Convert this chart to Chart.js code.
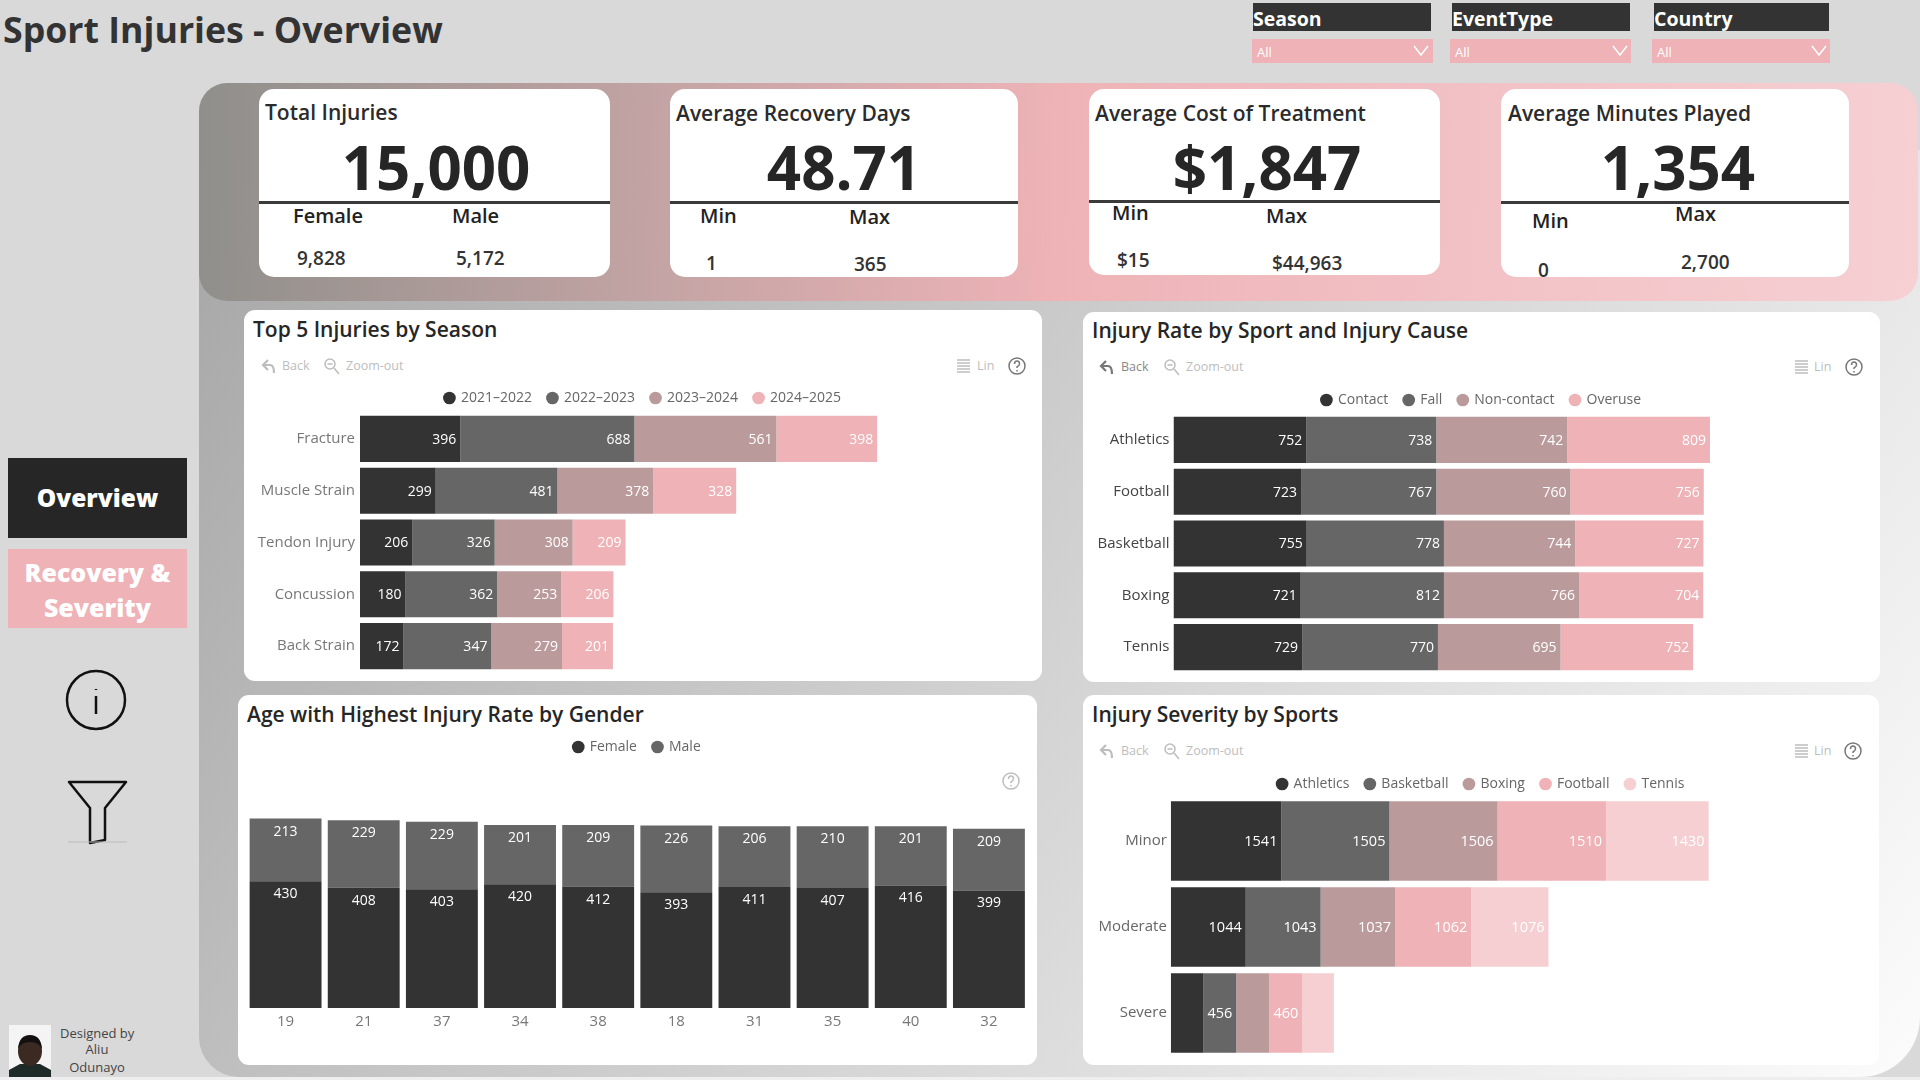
<!DOCTYPE html>
<html>
<head>
<meta charset="utf-8">
<title>Sport Injuries - Overview</title>
<script src="https://cdn.jsdelivr.net/npm/chart.js@4"></script>
<style>
  html, body { margin: 0; padding: 0; width: 1920px; height: 1080px; overflow: hidden; background: #d9d9d9; font-family: "Open Sans", sans-serif; color: #2b2b2b; }
  div, canvas, svg { position: absolute; }
  .t { white-space: nowrap; transform: translateY(-50%); line-height: 1; }
  .kpi { background: #fff; border-radius: 15px; overflow: hidden; }
  .rule { height: 3px; background: #3a3a3a; }
  .kt { font-size: 21px; font-weight: 600; color: #2b2b2b; }
  .kv { font-size: 60px; font-weight: 700; color: #262626; transform: translate(-50%, -50%); }
  .kh { font-size: 20px; font-weight: 600; color: #222; }
  .kn { font-size: 19px; font-weight: 600; color: #333; }
  .card { background: #fff; border-radius: 11px; }
  .ct { font-size: 21px; font-weight: 600; color: #262626; }
  .tool { font-size: 12.5px; color: #bdbdbd; }
  .head { background: #333; color: #fff; font-size: 19.5px; font-weight: 700; }
  .drop { background: #eeb2b7; color: #fff; font-size: 13px; }
  .nav { color: #fff; font-weight: 800; text-align: center; }
</style>
</head>
<body>

<div class="t" style="left:3px;top:30px;font-size:35.7px;font-weight:700;color:#333">Sport Injuries - Overview</div>

<!-- slicers -->
<div class="head" style="left:1253px;top:3px;width:178px;height:28px"><div class="t" style="left:0;top:16px">Season</div></div>
<div class="drop" style="left:1252px;top:39px;width:181px;height:24px"><div class="t" style="left:5px;top:13px">All</div></div>
<div class="head" style="left:1452px;top:3px;width:178px;height:28px"><div class="t" style="left:0;top:16px">EventType</div></div>
<div class="drop" style="left:1450px;top:39px;width:181px;height:24px"><div class="t" style="left:5px;top:13px">All</div></div>
<div class="head" style="left:1654px;top:3px;width:175px;height:28px"><div class="t" style="left:0;top:16px">Country</div></div>
<div class="drop" style="left:1652px;top:39px;width:178px;height:24px"><div class="t" style="left:5px;top:13px">All</div></div>
<svg style="left:0;top:0" width="1920" height="70" fill="none" stroke="#fff" stroke-width="1.5">
  <path d="M1414 46l7 9 7-9M1613 46l7 9 7-9M1812 46l7 9 7-9"/>
</svg>

<!-- sidebar -->
<div class="nav" style="left:8px;top:458px;width:179px;height:80px;background:#262626;font-size:24.5px;line-height:80px">Overview</div>
<div class="nav" style="left:8px;top:549px;width:179px;padding-top:6px;height:73px;background:#eeb2b7;font-size:25px;line-height:35px">Recovery &amp;<br>Severity</div>
<svg style="left:0;top:660px" width="199" height="200" fill="none" stroke="#111" stroke-width="2.5">
  <circle cx="96" cy="40" r="29"/>
  <path d="M96 29v1M96 36v18"/>
  <path d="M69 122h57l-21 26v32l-15 3v-35z" stroke-linejoin="round"/>
  <path d="M68 182h59" stroke="#bbb" stroke-width="1"/>
</svg>
<svg style="left:9px;top:1025px" width="42" height="53">
  <rect width="42" height="53" fill="#f4f4f4"/>
  <path d="M0 53v-8l11-6h20l11 6v8z" fill="#1d2a28"/>
  <ellipse cx="21" cy="26" rx="12" ry="15" fill="#3a2a22"/>
  <path d="M9 24q1-14 12-14t12 14q-3-7-12-7t-12 7z" fill="#141010"/>
</svg>
<div class="t" style="left:60px;top:1033px;font-size:13px;width:74px;text-align:center;color:#444">Designed by</div>
<div class="t" style="left:60px;top:1049px;font-size:13px;width:74px;text-align:center;color:#444">Aliu</div>
<div class="t" style="left:60px;top:1067px;font-size:13px;width:74px;text-align:center;color:#444">Odunayo</div>

<!-- backdrop -->
<div style="left:0;top:1077px;width:1920px;height:3px;background:#eeeeee"></div>
<div style="left:199px;top:150px;width:1721px;height:927px;border-radius:0 0 60px 40px;background:linear-gradient(125deg,#a6a6a6 0,#d2d2d2 50%,#fcfcfc 100%)"></div>
<div style="left:199px;top:83px;width:1719px;height:218px;border-radius:28px;background:linear-gradient(92deg,#8f8f8b 0,#c2a3a3 26%,#eeb3b7 50%,#f1bfc3 70%,#f6d0d3 100%)"></div>

<!-- KPI cards -->
<div class="kpi" style="left:259px;top:89px;width:351px;height:188px">
  <div class="t kt" style="left:6px;top:23px">Total Injuries</div>
  <div class="t kv" style="left:177px;top:78px">15,000</div>
  <div class="rule" style="left:0;top:112px;width:351px"></div>
  <div class="t kh" style="left:34px;top:127px">Female</div>
  <div class="t kh" style="left:193px;top:127px">Male</div>
  <div class="t kn" style="left:38px;top:169px">9,828</div>
  <div class="t kn" style="left:197px;top:169px">5,172</div>
</div>
<div class="kpi" style="left:670px;top:89px;width:348px;height:188px">
  <div class="t kt" style="left:6px;top:24px">Average Recovery Days</div>
  <div class="t kv" style="left:174px;top:78px">48.71</div>
  <div class="rule" style="left:0;top:112px;width:348px"></div>
  <div class="t kh" style="left:30px;top:127px">Min</div>
  <div class="t kh" style="left:179px;top:128px">Max</div>
  <div class="t kn" style="left:36px;top:174px">1</div>
  <div class="t kn" style="left:184px;top:175px">365</div>
</div>
<div class="kpi" style="left:1089px;top:89px;width:351px;height:186px">
  <div class="t kt" style="left:6px;top:24px">Average Cost of Treatment</div>
  <div class="t kv" style="left:178px;top:78px">$1,847</div>
  <div class="rule" style="left:0;top:111px;width:351px"></div>
  <div class="t kh" style="left:23px;top:124px">Min</div>
  <div class="t kh" style="left:177px;top:127px">Max</div>
  <div class="t kn" style="left:28px;top:171px">$15</div>
  <div class="t kn" style="left:183px;top:174px">$44,963</div>
</div>
<div class="kpi" style="left:1501px;top:89px;width:348px;height:188px">
  <div class="t kt" style="left:7px;top:24px">Average Minutes Played</div>
  <div class="t kv" style="left:177px;top:78px">1,354</div>
  <div class="rule" style="left:0;top:112px;width:348px"></div>
  <div class="t kh" style="left:31px;top:132px">Min</div>
  <div class="t kh" style="left:174px;top:125px">Max</div>
  <div class="t kn" style="left:37px;top:181px">0</div>
  <div class="t kn" style="left:180px;top:173px">2,700</div>
</div>

<!-- chart cards -->
<div class="card" style="left:244px;top:310px;width:798px;height:371px"></div>
<div class="card" style="left:1083px;top:312px;width:797px;height:370px"></div>
<div class="card" style="left:238px;top:695px;width:799px;height:370px"></div>
<div class="card" style="left:1083px;top:695px;width:796px;height:370px"></div>

<div class="t ct" style="left:253px;top:329px">Top 5 Injuries by Season</div>
<div class="t ct" style="left:1092px;top:330px">Injury Rate by Sport and Injury Cause</div>
<div class="t ct" style="left:247px;top:714px">Age with Highest Injury Rate by Gender</div>
<div class="t ct" style="left:1092px;top:714px">Injury Severity by Sports</div>

<canvas id="seasonChart" style="left:244px;top:375px" width="798" height="297"></canvas>
<canvas id="causeChart" style="left:1083px;top:377px" width="797" height="296"></canvas>
<canvas id="ageChart" style="left:238px;top:724px" width="799" height="311"></canvas>
<canvas id="severityChart" style="left:1083px;top:761px" width="796" height="295"></canvas>

<!-- visual header toolbars -->
<div class="t tool" style="left:282px;top:366px">Back</div>
<div class="t tool" style="left:346px;top:366px">Zoom-out</div>
<div class="t tool" style="left:977px;top:366px">Lin</div>
<div class="t tool" style="left:1121px;top:367px;color:#888">Back</div>
<div class="t tool" style="left:1186px;top:367px">Zoom-out</div>
<div class="t tool" style="left:1814px;top:367px">Lin</div>
<div class="t tool" style="left:1121px;top:751px">Back</div>
<div class="t tool" style="left:1186px;top:751px">Zoom-out</div>
<div class="t tool" style="left:1814px;top:751px">Lin</div>
<svg style="left:0;top:0" width="1920" height="1080" fill="none" stroke="#bdbdbd" stroke-width="1.5">
  <defs>
    <g id="backIcon"><path d="M6 -6l-5 5 5 5M1 -1h7q4 0 4 8" stroke-width="2.2"/></g>
    <g id="zoomIcon"><circle cx="5" cy="-2" r="5"/><path d="M2.5 -2h5M9 2l5 6"/></g>
    <g id="linesIcon"><path d="M0 -6h13M0 -3h13M0 0h13M0 3h13M0 6h13"/></g>
    <g id="helpIcon"><circle cx="0" cy="0" r="8"/><path d="M-2.5 -2q0 -3 2.5 -3t2.5 3q0 1.5 -2.5 3v1M0 4v1.5"/></g>
  </defs>
  <use href="#backIcon" x="262" y="366"/><use href="#zoomIcon" x="325" y="366"/><use href="#linesIcon" x="957" y="366"/><use href="#helpIcon" x="1017" y="366" stroke="#777"/>
  <use href="#backIcon" x="1100" y="367" stroke="#777"/><use href="#zoomIcon" x="1165" y="367"/><use href="#linesIcon" x="1795" y="367"/><use href="#helpIcon" x="1854" y="367" stroke="#777"/>
  <use href="#helpIcon" x="1011" y="781"/>
  <use href="#backIcon" x="1100" y="751"/><use href="#zoomIcon" x="1165" y="751"/><use href="#linesIcon" x="1795" y="751"/><use href="#helpIcon" x="1853" y="751" stroke="#777"/>
</svg>

<script>
// Top 5 injuries by season
const injuries = ['Fracture', 'Muscle Strain', 'Tendon Injury', 'Concussion', 'Back Strain'];
const seasons = ['2021–2022', '2022–2023', '2023–2024', '2024–2025'];
const season2122 = [396, 299, 206, 180, 172];
const season2223 = [688, 481, 326, 362, 347];
const season2324 = [561, 378, 308, 253, 279];
const season2425 = [398, 328, 209, 206, 201];

// Injury rate by sport and cause
const sports = ['Athletics', 'Football', 'Basketball', 'Boxing', 'Tennis'];
const causes = ['Contact', 'Fall', 'Non-contact', 'Overuse'];
const contact = [752, 723, 755, 721, 729];
const fall = [738, 767, 778, 812, 770];
const nonContact = [742, 760, 744, 766, 695];
const overuse = [809, 756, 727, 704, 752];

// Age by gender
const ages = ['19', '21', '37', '34', '38', '18', '31', '35', '40', '32'];
const genders = ['Female', 'Male'];
const female = [430, 408, 403, 420, 412, 393, 411, 407, 416, 399];
const male = [213, 229, 229, 201, 209, 226, 206, 210, 201, 209];

// Severity by sport
const severities = ['Minor', 'Moderate', 'Severe'];
const severitySports = ['Athletics', 'Basketball', 'Boxing', 'Football', 'Tennis'];
const athletics = [1541, 1044, 456];
const basketball = [1505, 1043, 456];
const boxing = [1506, 1037, 460];
const football = [1510, 1062, 460];
const tennis = [1430, 1076, 440];
// labels the report drops on the narrow Severe segments
const hiddenSeverity = ['Athletics', 'Boxing', 'Tennis'];

const colors = ['#333333', '#666666', '#bb9a9c', '#eeb2b7', '#f5cfd2'];
const FONT = '"Open Sans", sans-serif';

// white value labels inside the end of each segment
const valueLabels = {
  id: 'valueLabels',
  afterDatasetsDraw(chart, args, opts) {
    const ctx = chart.ctx;
    ctx.save();
    ctx.fillStyle = '#fff';
    ctx.font = opts.size + 'px ' + FONT;
    ctx.textBaseline = 'middle';
    chart.data.datasets.forEach((ds, i) => {
      chart.getDatasetMeta(i).data.forEach((bar, j) => {
        if (opts.skip && opts.skip(ds, j)) return;
        if (chart.options.indexAxis === 'y') {
          ctx.textAlign = 'right';
          ctx.fillText(ds.data[j], bar.x - 4, bar.y + 1);
        } else {
          ctx.textAlign = 'center';
          ctx.fillText(ds.data[j], bar.x, bar.y + 13);
        }
      });
    });
    ctx.restore();
  }
};

function legendOpts(maxHeight) {
  return {
    position: 'top',
    maxHeight: maxHeight,
    labels: {
      usePointStyle: true, pointStyle: 'circle', boxWidth: 9, boxHeight: 9, padding: 16,
      color: '#666', font: { family: FONT, size: 14 }
    }
  };
}

function stackedBars(id, labels, names, series, o) {
  new Chart(document.getElementById(id), {
    type: 'bar',
    data: {
      labels: labels,
      datasets: series.map((data, i) => ({
        label: names[i], data: data, backgroundColor: colors[i], stack: 's',
        barPercentage: o.barPct, categoryPercentage: 1
      }))
    },
    options: {
      indexAxis: 'y',
      responsive: false,
      animation: false,
      devicePixelRatio: 1,
      plugins: { legend: legendOpts(o.legendHeight), tooltip: { enabled: false }, valueLabels: { size: o.labelSize, skip: o.skip } },
      scales: {
        x: { display: false, stacked: true, min: 0, max: o.max },
        y: {
          stacked: true,
          grid: { display: false, drawTicks: false }, border: { display: false },
          ticks: { color: o.tickColor, padding: o.tickPad, font: { family: FONT, size: 15 }, autoSkip: false },
          afterFit: (scale) => {
            scale.width = o.axisWidth;
            scale.paddingTop = 0;
            scale.paddingBottom = 0;
          }
        }
      }
    },
    plugins: [valueLabels]
  });
}

stackedBars('seasonChart', injuries, seasons, [season2122, season2223, season2324, season2425],
  { barPct: 0.89, labelSize: 14, max: 2694, tickColor: '#777', tickPad: 5, axisWidth: 116, legendHeight: 38 });

stackedBars('causeChart', sports, causes, [contact, fall, nonContact, overuse],
  { barPct: 0.89, labelSize: 14, max: 4005, tickColor: '#444', tickPad: 4, axisWidth: 90.5, legendHeight: 37 });

stackedBars('severityChart', severities, severitySports, [athletics, basketball, boxing, football, tennis],
  { barPct: 0.925, labelSize: 14.5, max: 9866, tickColor: '#666', tickPad: 4, axisWidth: 87.8, legendHeight: 37,
    skip: (ds, j) => j === 2 && hiddenSeverity.includes(ds.label) });

new Chart(document.getElementById('ageChart'), {
  type: 'bar',
  data: {
    labels: ages,
    datasets: [female, male].map((data, i) => ({
      label: genders[i], data: data, backgroundColor: colors[i],
      barPercentage: 0.92, categoryPercentage: 1
    }))
  },
  options: {
    responsive: false,
    animation: false,
    devicePixelRatio: 1,
    layout: { padding: { left: 8.5, right: 9 } },
    plugins: { legend: legendOpts(), tooltip: { enabled: false }, valueLabels: { size: 14 } },
    scales: {
      x: {
        stacked: true,
        grid: { display: false, drawTicks: false }, border: { display: false },
        ticks: { color: '#777', padding: 5, font: { family: FONT, size: 15 } },
        afterFit: (scale) => { scale.height = 27; }
      },
      y: { display: false, stacked: true, min: 0, max: 828 }
    }
  },
  plugins: [valueLabels]
});
</script>
</body>
</html>
